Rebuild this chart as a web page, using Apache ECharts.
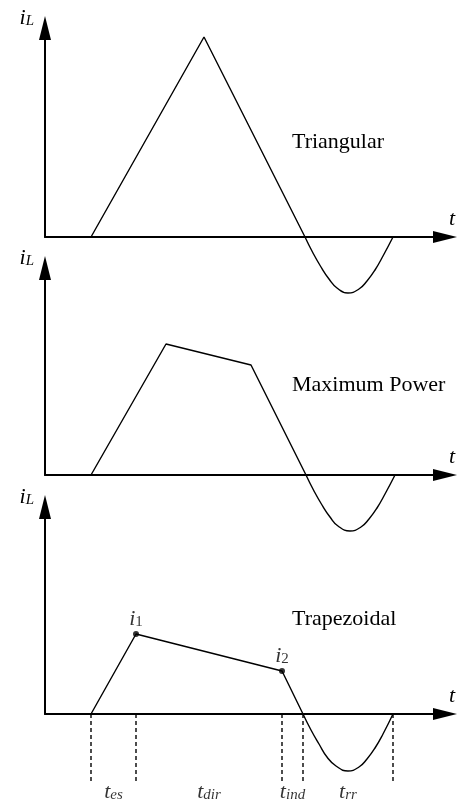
<!DOCTYPE html>
<html>
<head>
<meta charset="utf-8">
<script src="https://cdn.jsdelivr.net/npm/echarts@6/dist/echarts.min.js"></script>
<style>
  html, body { margin: 0; padding: 0; background: #fff; }
  #chart { width: 461px; height: 806px; }
</style>
</head>
<body>
<div id="chart"></div>
<script>
// Inductor current i_L over one switching cycle for three operating modes.
// Time axis runs 0..400 units; current in the same units on every panel.

// Triangular mode: linear rise, linear fall, then resonant reverse-recovery dip
const triRamp = [[46, 0], [159, 200], [260, 0]];
const triDip = [[260, 0], [268, -16], [276, -30], [284, -42], [292, -51], [303, -56],
                [314, -52], [322, -44], [330, -33], [338, -19], [348, 0]];

// Maximum-power mode: rise, sloped plateau, fall, dip
const mpRamp = [[46, 0], [121, 131], [206, 110], [261, 0]];
const mpDip = [[261, 0], [269, -16], [277, -30], [285, -42], [293, -51], [305, -56],
               [316, -52], [324, -44], [332, -33], [340, -19], [350, 0]];

// Trapezoidal mode: rise to i1, decay to i2, fall, dip
const tzRamp = [[46, 0], [91, 80], [237, 43], [258, 0]];
const tzDip = [[258, 0], [266, -16], [274, -30], [282, -43], [291, -52], [303, -57],
               [314, -53], [322, -45], [330, -34], [338, -20], [348, 0]];
const tzCorners = [[91, 80, '1'], [237, 43, '2']];

// Interval boundaries and names below the trapezoidal panel
const tzBounds = [46, 91, 237, 258, 348];
const tzIntervals = ['es', 'dir', 'ind', 'rr'];

const panelTitles = ['Triangular', 'Maximum Power', 'Trapezoidal'];

const SERIF = '"Liberation Serif", "Times New Roman", serif';
const INK = '#000';

const grids = [
  { left: 45, top: 28, width: 400, height: 209 },
  { left: 45, top: 268, width: 400, height: 207 },
  { left: 45, top: 507, width: 400, height: 207 }
];

const mathRich = {
  v: { fontFamily: SERIF, fontStyle: 'italic', fontSize: 22, lineHeight: 24, verticalAlign: 'bottom', color: INK },
  s: { fontFamily: SERIF, fontStyle: 'italic', fontSize: 15, lineHeight: 14, verticalAlign: 'bottom', color: INK },
  n: { fontFamily: SERIF, fontSize: 15, lineHeight: 14, verticalAlign: 'bottom', color: INK }
};

const axisLine = {
  show: true,
  onZero: false,
  symbol: ['none', 'triangle'],
  symbolSize: [12, 24],
  lineStyle: { color: INK, width: 2 }
};

const xAxes = grids.map((g, i) => ({
  gridIndex: i, type: 'value', min: 0, max: 400,
  axisLine, axisTick: { show: false }, axisLabel: { show: false }, splitLine: { show: false },
  name: '{v|t}', nameLocation: 'end', nameGap: 4,
  nameTextStyle: { align: 'left', verticalAlign: 'bottom', padding: [0, 0, 7, 0], rich: mathRich }
}));

const yAxes = grids.map((g, i) => ({
  gridIndex: i, type: 'value', min: 0, max: g.height,
  axisLine, axisTick: { show: false }, axisLabel: { show: false }, splitLine: { show: false },
  name: '{v|i}{s|L}', nameLocation: 'end', nameGap: 11,
  nameTextStyle: { align: 'right', verticalAlign: 'middle', padding: [0, 11, 0, 0], rich: mathRich }
}));

const curveStyle = { color: INK, width: 1.4 };

function polyline(data, idx) {
  return { type: 'line', xAxisIndex: idx, yAxisIndex: idx, data, symbol: 'none',
           clip: false, silent: true, lineStyle: curveStyle, z: 3 };
}
function dip(data, idx) {
  return Object.assign(polyline(data, idx), { smooth: true });
}

const series = [
  polyline(triRamp, 0), dip(triDip, 0),
  polyline(mpRamp, 1), dip(mpDip, 1),
  polyline(tzRamp, 2), dip(tzDip, 2),
  {
    type: 'scatter', xAxisIndex: 2, yAxisIndex: 2, data: tzCorners,
    symbol: 'circle', symbolSize: 6, itemStyle: { color: INK }, silent: true, z: 4,
    label: {
      show: true, position: 'top', distance: 1,
      formatter: p => '{v|i}{n|' + p.value[2] + '}', rich: mathRich
    }
  }
];

// Dashed markers dropping from the time axis at each interval boundary
const dashDepth = -68;
tzBounds.forEach(b => {
  series.push({
    type: 'line', xAxisIndex: 2, yAxisIndex: 2, data: [[b, 0], [b, dashDepth]],
    symbol: 'none', clip: false, silent: true,
    lineStyle: { color: INK, width: 1.4, type: [4, 3] }, z: 2
  });
});

// Interval names centred between neighbouring boundaries
series.push({
  type: 'scatter', xAxisIndex: 2, yAxisIndex: 2, clip: false, silent: true,
  symbolSize: 0, itemStyle: { color: 'transparent' },
  data: tzIntervals.map((name, k) => [(tzBounds[k] + tzBounds[k + 1]) / 2, dashDepth, name]),
  label: {
    show: true, position: 'bottom', distance: 0, offset: [0, -3],
    formatter: p => '{v|t}{s|' + p.value[2] + '}', rich: mathRich
  }
});

const titleTops = [131, 374, 608];
const chart = echarts.init(document.getElementById('chart'));
chart.setOption({
  animation: false,
  backgroundColor: '#fff',
  title: panelTitles.map((t, i) => ({
    text: t, left: 292, top: titleTops[i], padding: 0,
    textStyle: { fontFamily: SERIF, fontSize: 22, fontWeight: 'normal', color: INK }
  })),
  grid: grids,
  xAxis: xAxes,
  yAxis: yAxes,
  series
});
</script>
</body>
</html>
